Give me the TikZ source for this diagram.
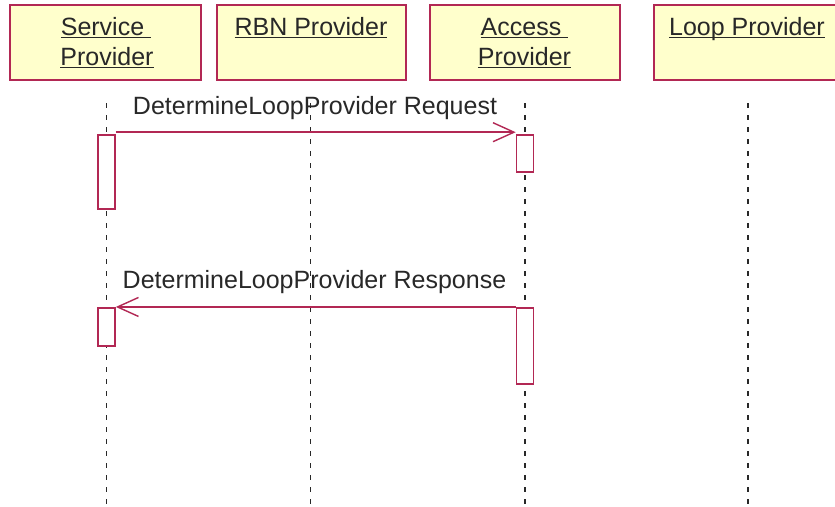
\documentclass[tikz,border=0pt]{standalone}
\usepackage{fontspec}
\setmainfont{Liberation Sans}
\usetikzlibrary{arrows.meta}
\definecolor{umlred}{RGB}{178,40,84}
\definecolor{umlfill}{RGB}{255,255,204}
\definecolor{ink}{RGB}{40,40,40}
\newcommand\myul[1]{\setbox0\hbox{#1}\rlap{\color{ink}\rule[-3pt]{\wd0}{1.5pt}}\box0}
\begin{document}
\begin{tikzpicture}[x=1pt,y=-1pt,
  objbox/.style={draw=umlred,line width=2pt,fill=umlfill,minimum height=75pt,inner sep=0pt},
  lbl/.style={anchor=base,inner sep=0pt,text=ink,font=\fontsize{25}{29}\selectfont},
  lifeline/.style={draw=ink,line width=1.7pt,dash pattern=on 5pt off 7pt},
  act/.style={draw=umlred,line width=1.6pt,fill=white,minimum width=17pt,inner sep=0pt},
  msg/.style={draw=umlred,line width=1.5pt,-{Straight Barb[length=21pt,width=19pt,line width=1.4pt]}}]
\useasboundingbox (0,0) rectangle (835,506);
\clip (0,0) rectangle (835,506);
\fill[white] (0,0) rectangle (835,506);
% object boxes
\node[objbox,minimum width=191pt] (sp) at (105.5,42.5) {};
\node[objbox,minimum width=189pt] (rbn) at (311,42.5) {};
\node[objbox,minimum width=190pt] (ap) at (525,42.5) {};
\node[objbox,minimum width=188pt] (lp) at (748,42.5) {};
% box labels
\node[lbl] (spt1) at (106,35) {\myul{Service\ }};
\node[lbl] (spt2) at (107,65) {\myul{Provider}};
\node[lbl] (rbnt) at (311,35) {\myul{RBN Provider}};
\node[lbl] (apt1) at (524.5,35) {\myul{Access\ }};
\node[lbl] (apt2) at (524.5,65) {\myul{Provider}};
\node[lbl] (lpt) at (747,35) {\myul{Loop Provider}};
% lifelines
\coordinate (spl1) at (106.5,103); \coordinate (spl2) at (106.5,506);
\coordinate (rbl1) at (310.5,103); \coordinate (rbl2) at (310.5,506);
\coordinate (apl1) at (525,103); \coordinate (apl2) at (525,506);
\coordinate (lpl1) at (748,103); \coordinate (lpl2) at (748,506);
\draw[lifeline] (spl1) -- (spl2);
\draw[lifeline] (rbl1) -- (rbl2);
\draw[lifeline] (apl1) -- (apl2);
\draw[lifeline] (lpl1) -- (lpl2);
% activations
\node[act,minimum height=74pt] (sa1) at (106.5,172) {};
\node[act,minimum height=37pt] (aa1) at (525,153.5) {};
\node[act,minimum height=38.5pt] (sa2) at (106.5,327) {};
\node[act,minimum height=76.5pt] (aa2) at (525,346) {};
% messages
\draw[msg] ([yshift=2pt]sa1.north east) -- ([yshift=2pt]aa1.north west);
\node[lbl] (m1) at (315,114) {DetermineLoopProvider Request};
\draw[msg] (aa2.north west) -- (sa2.north east);
\node[lbl] (m2) at (314.5,288) {DetermineLoopProvider Response};
\end{tikzpicture}
\end{document}
